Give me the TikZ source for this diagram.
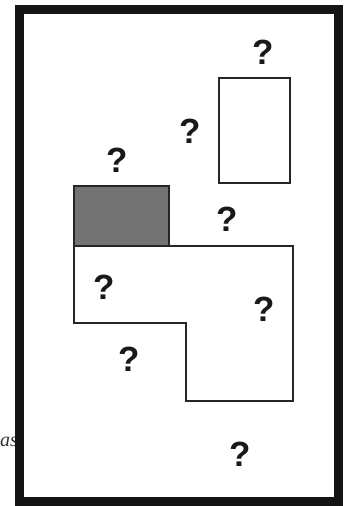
\documentclass[tikz,border=0pt]{standalone}
\usepackage{fontspec}
\setmainfont{Liberation Serif}
\newfontfamily\qfont{Liberation Sans}
\tikzset{
  px/.style={x=1pt,y=-1pt},
  frame/.style={draw=black!92,line width=9pt},
  room/.style={draw=black!85,line width=2pt},
  qmark/.style={font=\qfont\bfseries\fontsize{35}{35}\selectfont,inner sep=0pt,text=black!90},
}
\begin{document}
\begin{tikzpicture}[px]
\useasboundingbox (0,0) rectangle (345,506);
\fill[white] (0,0) rectangle (345,506);
% cut-off caption text at left margin
\node[anchor=base east,inner sep=0pt,font=\itshape\fontsize{20}{20}\selectfont,text=black!80] (cap) at (18,446) {as};
% outer frame
\draw[frame] (19.5,9.5) rectangle (338.5,501.5);
% tall room top right
\draw[room] (219,78) rectangle (290,183);
% grey block
\draw[room,fill=black!55] (74,186) rectangle (169,246);
% L-shaped room
\draw[room] (74,246) -- (293,246) -- (293,401) -- (186,401) -- (186,323) -- (74,323) -- cycle;
% question marks
\node[qmark] (q1) at (263,52) {?};
\node[qmark] (q2) at (190,131) {?};
\node[qmark] (q3) at (117,160) {?};
\node[qmark] (q4) at (227,219) {?};
\node[qmark] (q5) at (104,287) {?};
\node[qmark] (q6) at (264,309) {?};
\node[qmark] (q7) at (129,359) {?};
\node[qmark] (q8) at (240,454) {?};
\end{tikzpicture}
\end{document}
